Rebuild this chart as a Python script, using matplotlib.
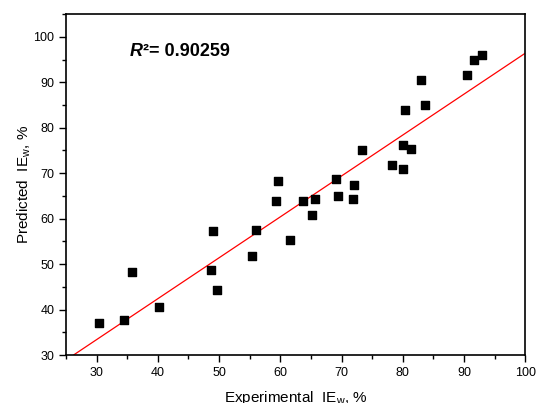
import numpy as np
import matplotlib
matplotlib.use("Agg")
from matplotlib import pyplot as plt
from matplotlib.ticker import MultipleLocator

plt.rcParams['font.family'] = ['Liberation Sans', 'DejaVu Sans']
plt.rcParams['mathtext.fontset'] = 'custom'
plt.rcParams['mathtext.rm'] = 'Liberation Sans'
plt.rcParams['mathtext.it'] = 'Liberation Sans:italic'
plt.rcParams['mathtext.bf'] = 'Liberation Sans:bold'

# Experimental vs predicted inhibition efficiency (%)
experimental = [30.4, 34.5, 35.8, 40.2, 48.6, 49.0, 49.7, 55.4, 56.05, 59.3,
                59.7, 61.5, 63.7, 65.2, 65.6, 69.1, 69.4, 71.8, 72.1, 73.3,
                78.3, 80.0, 80.1, 80.4, 81.4, 83.0, 83.6, 90.5, 91.7, 92.9]
predicted = [37.1, 37.6, 48.3, 40.6, 48.7, 57.2, 44.3, 51.8, 57.6, 63.9,
             68.3, 55.4, 63.9, 60.8, 64.3, 68.7, 65.0, 64.4, 67.4, 75.0,
             71.8, 76.2, 71.0, 84.0, 75.4, 90.6, 85.1, 91.7, 95.0, 96.1]
r_squared = 0.90259

# linear fit line
fit_slope = 0.90
fit_intercept = 6.4

fig = plt.figure(figsize=(5.39, 4.03), dpi=100)
ax = fig.add_axes([0.1225, 0.119, 0.852, 0.846])

ax.scatter(experimental, predicted, marker='s', s=36, color='black', zorder=3)

xs = np.array([25, 100])
ax.plot(xs, fit_slope * xs + fit_intercept, color='red', lw=0.9, zorder=2)

ax.set_xlim(25, 100)
ax.set_ylim(30, 105)
ax.xaxis.set_minor_locator(MultipleLocator(5))
ax.yaxis.set_minor_locator(MultipleLocator(5))
ax.set_xticks(range(30, 101, 10))
ax.set_yticks(range(30, 101, 10))

ax.tick_params(which='major', direction='out', length=5, width=1, labelsize=9)
ax.tick_params(which='minor', direction='out', length=3, width=1)
for sp in ax.spines.values():
    sp.set_linewidth(1.2)

ax.set_xlabel(r'Experimental  IE$_\mathrm{w}$, %', fontsize=11, labelpad=7)
ax.set_ylabel(r'Predicted  IE$_\mathrm{w}$, %', fontsize=11, labelpad=0)

# R^2 annotation: italic R followed by the value
r_txt = ax.text(35.4, 96.8, 'R', fontsize=13, fontweight='bold',
                fontstyle='italic', va='center')
ax.annotate('²= {:.5f}'.format(r_squared), xy=(1, 0.5), xycoords=r_txt,
            xytext=(0.5, 0), textcoords='offset points',
            fontsize=13, fontweight='bold', va='center')

fig.savefig('out.png', dpi=100)
